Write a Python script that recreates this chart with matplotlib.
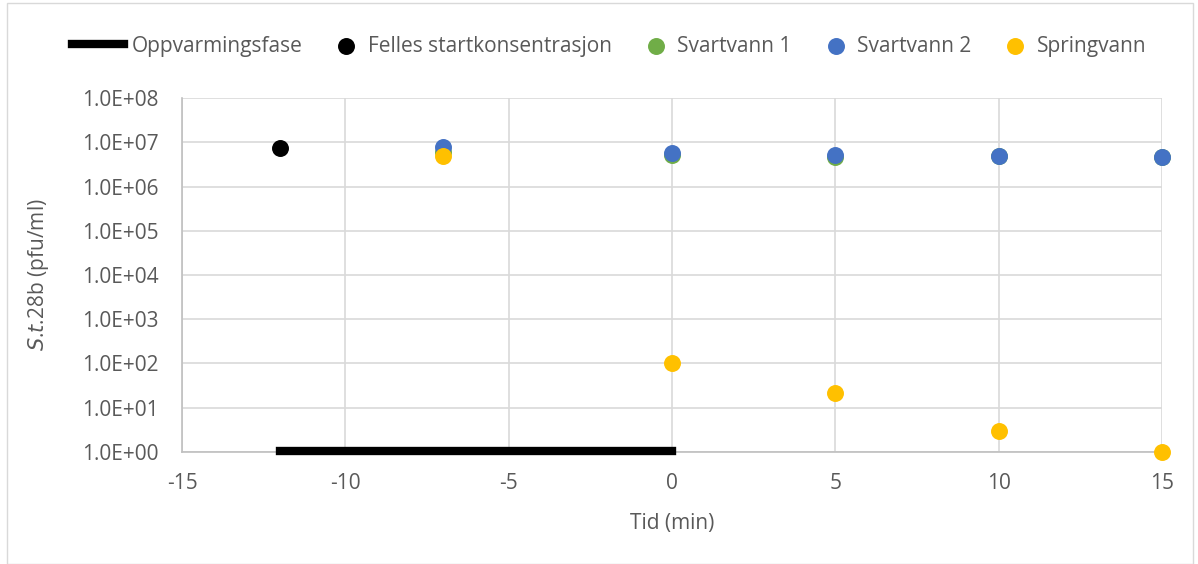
import math
import matplotlib
matplotlib.use("Agg")
import matplotlib.pyplot as plt
from matplotlib.ticker import FuncFormatter, FixedLocator
from matplotlib.patches import Rectangle
from matplotlib.legend_handler import HandlerLine2D

# Data
tid_felles = [-12]
felles = [7.4e6]

tid = [-7, 0, 5, 10, 15]
svartvann1 = [6.2e6, 5.2e6, 4.7e6, 5.0e6, 4.6e6]
svartvann2 = [7.8e6, 5.7e6, 5.2e6, 5.0e6, 4.6e6]
springvann = [4.9e6, 100, 21, 3.0, 1.0]

oppvarming_x = [-12, 0]
oppvarming_y = [1.05, 1.05]

plt.rcParams['font.family'] = ['Open Sans', 'DejaVu Sans']
plt.rcParams['axes.unicode_minus'] = False

grå = '#595959'
fs = 15


# lang strek i legenden (som i Excel), kort plass for punktene
class LangStrek(HandlerLine2D):
    def get_xdata(self, legend, xdescent, ydescent, width, height, fontsize):
        x1 = -xdescent + width + 0.2 * fontsize
        x0 = x1 - 2.5 * fontsize
        return [x0, x1], [x0, x1]


fig = plt.figure(figsize=(11.98, 5.64), dpi=100)
ax = fig.add_axes([0.152, 0.199, 0.818, 0.627])

strek, = ax.plot(oppvarming_x, oppvarming_y, color='black', lw=6, solid_capstyle='projecting',
                 label='Oppvarmingsfase', zorder=3, clip_on=False)
ax.scatter(tid_felles, felles, s=125, color='black', label='Felles startkonsentrasjon', zorder=4, clip_on=False)
ax.scatter(tid, svartvann1, s=125, color='#70ad47', label='Svartvann 1', zorder=4, clip_on=False)
ax.scatter(tid, svartvann2, s=125, color='#4472c4', label='Svartvann 2', zorder=5, clip_on=False)
ax.scatter(tid, springvann, s=125, color='#ffc000', label='Springvann', zorder=6, clip_on=False)

ax.set_yscale('log')
ax.set_ylim(1, 1e8)
ax.set_xlim(-15, 15)
ax.xaxis.set_major_locator(FixedLocator([-15, -10, -5, 0, 5, 10, 15]))
ax.yaxis.set_major_locator(FixedLocator([10.0**k for k in range(9)]))
ax.yaxis.set_minor_locator(FixedLocator([]))
ax.yaxis.set_major_formatter(FuncFormatter(lambda v, p: '1.0E+%02d' % round(math.log10(v))))

ax.grid(True, color='#d9d9d9', lw=1.2, zorder=0)
ax.set_axisbelow(True)
for s in ['top', 'right']:
    ax.spines[s].set_visible(False)
for s in ['left', 'bottom']:
    ax.spines[s].set_color('#bfbfbf')
    ax.spines[s].set_linewidth(1.2)
ax.tick_params(length=0, labelsize=fs, labelcolor=grå)
ax.tick_params(axis='y', pad=17)
ax.tick_params(axis='x', pad=15)

ax.set_xlabel('Tid (min)', fontsize=fs, color=grå, labelpad=14)
ax.set_ylabel(r'$\mathit{S}$.$\mathit{t}$.28b (pfu/ml)', fontsize=fs, color=grå, labelpad=22)
plt.rcParams['mathtext.fontset'] = 'custom'

fig.legend(loc='center', bbox_to_anchor=(0.52, 0.918), ncol=5, frameon=False,
           fontsize=fs, labelcolor=grå, handlelength=1.0, handletextpad=0.55,
           columnspacing=1.6, handler_map={strek: LangStrek()})

fig.patches.append(Rectangle((0.006, 0.0), 0.99, 0.995, transform=fig.transFigure,
                             fill=False, edgecolor='#d9d9d9', lw=1))

fig.savefig('out.png', dpi=100)
